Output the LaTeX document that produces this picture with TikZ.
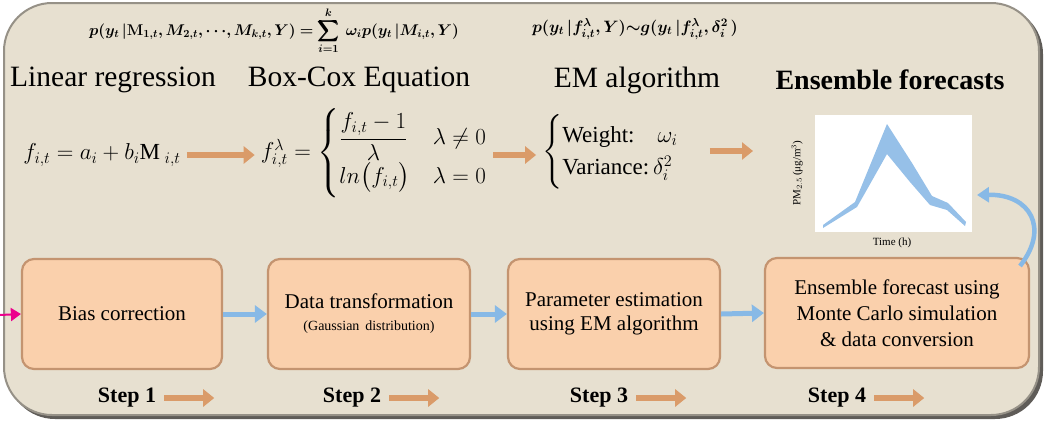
\RequirePackage{fix-cm}
\documentclass[tikz,border=0pt]{standalone}
\usepackage{amsmath,bm}
\usepackage{fontspec}
\setmainfont{Liberation Serif}
\usetikzlibrary{arrows.meta}
\definecolor{bgfill}{RGB}{231,224,208}
\definecolor{bgedge}{RGB}{150,145,135}
\definecolor{bgshadow}{RGB}{95,92,88}
\definecolor{boxfill}{RGB}{250,208,172}
\definecolor{boxedge}{RGB}{196,148,112}
\definecolor{oarr}{RGB}{218,155,105}
\definecolor{barr}{RGB}{135,185,230}
\definecolor{pblue}{RGB}{150,192,232}
\tikzset{
  stepbox/.style={draw=boxedge,line width=2.2pt,fill=boxfill,rounded corners=12pt,
    minimum width=#1,minimum height=110pt,align=center,inner sep=2pt,
    font=\fontsize{21}{24}\selectfont},
  title/.style={font=\fontsize{29.5}{32}\selectfont,inner sep=0pt},
  steplbl/.style={font=\fontsize{22}{25}\selectfont\bfseries,inner sep=0pt},
  oarrow/.style={draw=oarr,line width=6pt,-{Triangle[length=11pt,width=17pt]}},
  barrow/.style={draw=barr,line width=5pt,-{Triangle[length=12pt,width=17pt]}},
  meq/.style={font=\fontsize{23}{27}\selectfont,inner sep=0pt},
  teq/.style={font=\fontsize{15.5}{18}\selectfont,inner sep=0pt},
}
\begin{document}
\begin{tikzpicture}[x=1pt,y=-1pt]
\useasboundingbox (0,0) rectangle (1045,421);
% background panel
\fill[bgshadow,rounded corners=48pt] (7,6) rectangle (1043,419);
\draw[bgedge,fill=bgfill,line width=2pt,rounded corners=48pt] (4,3) rectangle (1039,415);
% top equations
\node[teq] (e1) at (274,31) {$\bm{p(y_t\,|\mathbf{M}_{1,t},M_{2,t},\cdots,M_{k,t},Y)=\displaystyle\sum_{i=1}^{k}\ \omega_i p(y_t\,|M_{i,t},Y)}$};
\node[teq,font=\fontsize{16.5}{19}\selectfont] (e2) at (635,29) {$\bm{p(y_t\,|f^{\lambda}_{i,t},Y){\sim}g(y_t\,|f^{\lambda}_{i,t},\delta_i^2\,)}$};
% titles
\node[title] (t1) at (113,80) {Linear regression};
\node[title] (t2) at (359,80) {Box-Cox Equation};
\node[title] (t3) at (637,80) {EM algorithm};
\node[title,font=\fontsize{28}{31}\selectfont\bfseries] (t4) at (890,80) {Ensemble forecasts};
% middle equations
\node[meq] (m1) at (102,155) {$f_{i,t}=a_i+b_i\mathrm{M}_{\;i,t}$};
\node[meq] (m2) at (374,153) {$f^{\lambda}_{i,t}=\begin{cases}\dfrac{f_{i,t}-1}{\lambda} & \lambda\neq0\\ ln\bigl(f_{i,t}\bigr) & \lambda=0\end{cases}$};
\node[meq] (m3) at (622,152) {$\begin{cases}\text{Weight:}\quad\omega_i\\ \text{Variance:}\,\delta_i^2\end{cases}$};
\coordinate (m4) at (753,151);
\draw[oarrow] ([xshift=6pt]m1.east) -- ([xshift=-6pt]m2.west |- m1.east);
\draw[oarrow] ([xshift=6pt]m2.east |- m1.east) -- ([xshift=-6pt]m3.west |- m1.east);
\draw[oarrow] ([xshift=8pt]m3.east |- m4) -- (m4);
% plot
\node[fill=white,minimum width=157pt,minimum height=117pt,inner sep=0pt] (plot) at (893.5,173.5) {};
\fill[pblue] (823,225) -- (855,202) -- (887,124) -- (912,163) -- (932,196) -- (948,203) -- (966,222)
  -- (965,226) -- (947,210) -- (930,205) -- (910,182) -- (887,154) -- (865,193) -- (857,207) -- (823,228) -- cycle;
\node[rotate=90,font=\fontsize{11}{13}\selectfont,inner sep=0pt] (ylab) at (797,173) {PM$_{2.5}$\,(μg/m$^{3}$)};
\node[font=\fontsize{11}{13}\selectfont,inner sep=0pt] (xlab) at (892,243) {Time (h)};
% step boxes
\node[stepbox=200pt] (b1) at (122,314) {Bias correction};
\node[stepbox=202pt] (b2) at (369,314) {Data transformation\\[-2pt]{\fontsize{14}{16}\selectfont (Gaussian\, distribution)}};
\node[stepbox=212pt] (b3) at (614,314) {Parameter estimation\\using EM algorithm};
\node[stepbox=264pt,font=\fontsize{21}{26}\selectfont] (b4) at (897,313) {Ensemble forecast using\\Monte Carlo simulation\\\& data conversion};
\draw[barrow] (b1.east) -- (b2.west);
\draw[barrow] (b2.east) -- (b3.west);
\draw[barrow] (b3.east) -- (b4.west);
\coordinate (in) at (0,315);
\draw[magenta,line width=2pt,-{Triangle[length=10pt,width=13pt]}] (in) -- (b1.west);
\coordinate (cstart) at (1020,266);
\coordinate (cend) at (977,195);
\draw[barr,line width=4.5pt,-{Triangle[length=12pt,width=15pt]}] (cstart) .. controls (1050,228) and (1030,194) .. (cend);
% step labels
\node[steplbl] (s1) at (127,398) {Step 1};
\node[steplbl] (s2) at (352,398) {Step 2};
\node[steplbl] (s3) at (599,398) {Step 3};
\node[steplbl] (s4) at (837,398) {Step 4};
\foreach \s in {1,2,3,4}{
  \draw[oarrow] ([xshift=8pt]s\s.east) -- ++(50pt,0);
}
\end{tikzpicture}
\end{document}
